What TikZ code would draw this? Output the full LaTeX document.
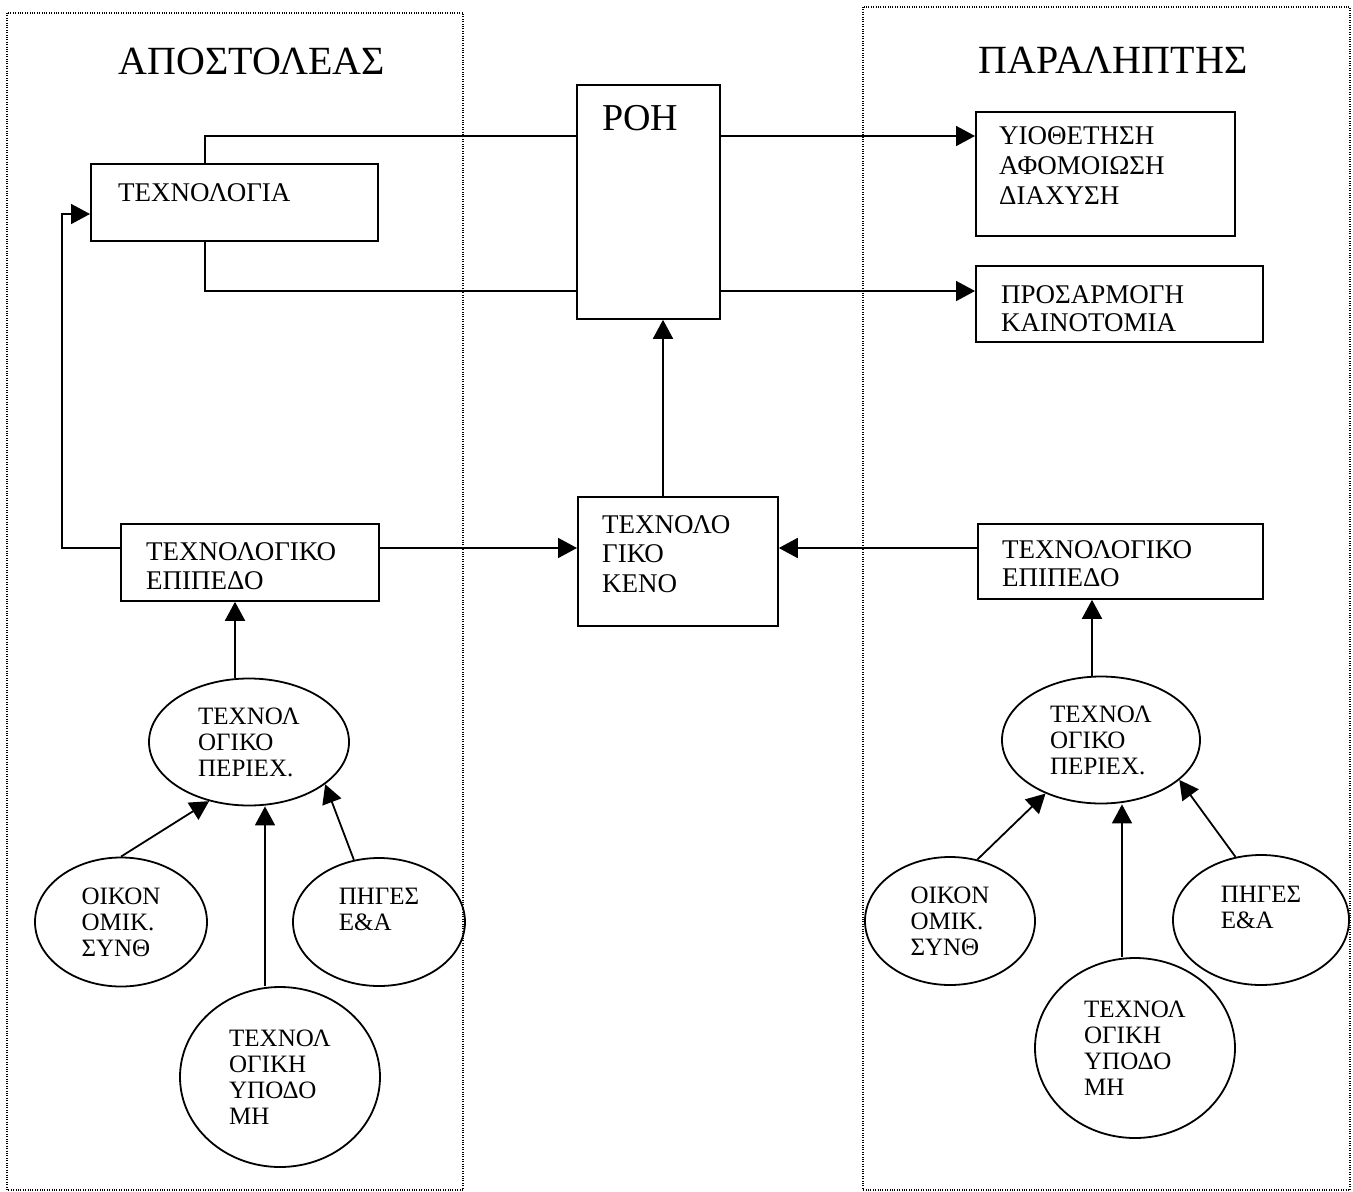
\documentclass[tikz,border=0pt]{standalone}
\usepackage{fontspec}
\setmainfont{Liberation Serif}
\usetikzlibrary{arrows.meta,shapes.geometric}

\begin{document}
\begin{tikzpicture}[x=1pt,y=-1pt,
  bx/.style={draw,line width=1.8pt,anchor=north west,inner sep=0pt},
  el/.style={draw,ellipse,line width=1.8pt,inner sep=0pt,align=left,font=\fontsize{25}{26}\selectfont},
  lbl/.style={anchor=north west,inner sep=0pt,align=left,font=\fontsize{27}{29}\selectfont},
  ttl/.style={anchor=base,inner sep=0pt,font=\fontsize{40}{44}\selectfont},
  frm/.style={line width=1.5pt,dash pattern=on 1pt off 1.4pt},
  ln/.style={line width=1.8pt},
  ar/.style={-{Triangle[length=19pt,width=20pt]},line width=1.8pt}]
\path[use as bounding box,fill=white] (0,0) rectangle (1353,1192);
\draw[frm] (7,13) rectangle (463,1190);
\draw[frm] (863,7) rectangle (1350,1190);
\node[ttl] (sendT) at (252,74) {ΑΠΟΣΤΟΛΕΑΣ};
\node[ttl] (recvT) at (1113,73) {ΠΑΡΑΛΗΠΤΗΣ};
\node[bx,minimum width=287pt,minimum height=77pt]  (tech) at (90,163)  {};
\node[bx,minimum width=143pt,minimum height=234pt] (roh)  at (576,84)  {};
\node[bx,minimum width=259pt,minimum height=124pt] (yiot) at (975,111) {};
\node[bx,minimum width=287pt,minimum height=76pt]  (pros) at (975,265) {};
\node[bx,minimum width=200pt,minimum height=129pt] (keno) at (577,496) {};
\node[bx,minimum width=258pt,minimum height=77pt]  (epiL) at (120,523) {};
\node[bx,minimum width=285pt,minimum height=75pt]  (epiR) at (977,523) {};
\node[lbl] (techT) at (118,183)  {ΤΕΧΝΟΛΟΓΙΑ};
\node[lbl,font=\fontsize{38}{40}\selectfont] (rohT) at (602,105) {ΡΟΗ};
\node[lbl,font=\fontsize{27}{30}\selectfont] (yiotT) at (999,126) {ΥΙΟΘΕΤΗΣΗ\\ΑΦΟΜΟΙΩΣΗ\\ΔΙΑΧΥΣΗ};
\node[lbl,font=\fontsize{27}{28}\selectfont] (prosT) at (1001,285) {ΠΡΟΣΑΡΜΟΓΗ\\ΚΑΙΝΟΤΟΜΙΑ};
\node[lbl,font=\fontsize{27}{29.5}\selectfont] (kenoT) at (602,515) {ΤΕΧΝΟΛΟ\\ΓΙΚΟ\\ΚΕΝΟ};
\node[lbl] (epiLT) at (146,542) {ΤΕΧΝΟΛΟΓΙΚΟ\\ΕΠΙΠΕΔΟ};
\node[lbl,font=\fontsize{27}{28}\selectfont] (epiRT) at (1002,540) {ΤΕΧΝΟΛΟΓΙΚΟ\\ΕΠΙΠΕΔΟ};
\node[el,minimum width=200pt,minimum height=127pt] (contL) at (249,742)  {ΤΕΧΝΟΛ\\ΟΓΙΚΟ\\ΠΕΡΙΕΧ.};
\node[el,minimum width=172pt,minimum height=129pt] (oikL)  at (121,922)  {ΟΙΚΟΝ\\ΟΜΙΚ.\\ΣΥΝΘ};
\node[el,minimum width=172pt,minimum height=128pt] (pigL)  at (379,922)  {ΠΗΓΕΣ\\Ε\&Α\\\mbox{}};
\node[el,minimum width=200pt,minimum height=180pt] (ypoL)  at (280,1077) {ΤΕΧΝΟΛ\\ΟΓΙΚΗ\\ΥΠΟΔΟ\\ΜΗ};
\node[el,minimum width=198pt,minimum height=127pt] (contR) at (1101,740) {ΤΕΧΝΟΛ\\ΟΓΙΚΟ\\ΠΕΡΙΕΧ.};
\node[el,minimum width=170pt,minimum height=128pt] (oikR)  at (950,921)  {ΟΙΚΟΝ\\ΟΜΙΚ.\\ΣΥΝΘ};
\node[el,minimum width=176pt,minimum height=130pt] (pigR)  at (1261,920) {ΠΗΓΕΣ\\Ε\&Α\\\mbox{}};
\node[el,minimum width=200pt,minimum height=180pt] (ypoR)  at (1135,1048) {ΤΕΧΝΟΛ\\ΟΓΙΚΗ\\ΥΠΟΔΟ\\ΜΗ};
\coordinate (tapT) at (205,136);
\coordinate (tapB) at (205,291);
\coordinate (gapY) at (0,548);
\coordinate (backY) at (62,214);
\coordinate (upC) at (663,0);
\coordinate (upL) at (235,0);
\coordinate (upR) at (1092,0);
\coordinate (midL) at (265,0);
\coordinate (midR) at (1122,0);
\draw[ln] (tech.north -| tapT) -- (tapT) -- (tapT -| roh.west);
\draw[ln] (tech.south -| tapB) -- (tapB) -- (tapB -| roh.west);
\draw[ar] (roh.east |- tapT) -- (yiot.west |- tapT);
\draw[ar] (roh.east |- tapB) -- (pros.west |- tapB);
\draw[ar] (keno.north -| upC) -- (roh.south -| upC);
\draw[ar] (epiL.east |- gapY) -- (keno.west |- gapY);
\draw[ar] (epiR.west |- gapY) -- (keno.east |- gapY);
\draw[ar] (epiL.west |- gapY) -| (backY) -- (backY -| tech.west);
\draw[ar] (contL.north -| upL) -- (epiL.south -| upL);
\draw[ar] (contR.north -| upR) -- (epiR.south -| upR);
\draw[ar] (oikL.north) -- (contL.236);
\draw[ar] (ypoL.north -| midL) -- (contL.south -| midL);
\draw[ar] (pigL.112) -- (contL.331);
\draw[ar] (oikR.66) -- (contR.224);
\draw[ar] (ypoR.north -| midR) -- (contR.south -| midR);
\draw[ar] (pigR.112) -- (contR.333);
\end{tikzpicture}
\end{document}
